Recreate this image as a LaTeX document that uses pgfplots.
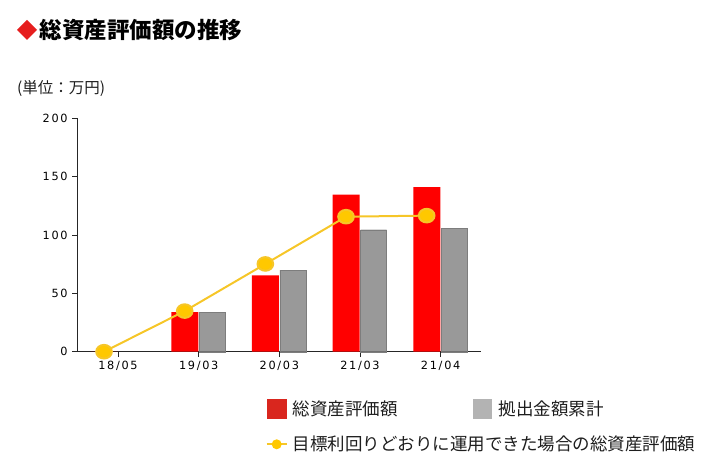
\documentclass[border=0pt]{standalone}
\usepackage{fontspec}
\usepackage{pgfplots}
\pgfplotsset{compat=1.18}
\setmainfont{DejaVu Sans}
\newfontfamily\cjk{Noto Sans CJK JP}
\newfontfamily\tickfont[LetterSpace=15]{DejaVu Sans}

\definecolor{barred}{RGB}{255,0,0}
\definecolor{bargray}{RGB}{153,153,153}
\definecolor{bargrayedge}{RGB}{125,125,125}
\definecolor{legred}{RGB}{217,38,30}
\definecolor{leggray}{RGB}{179,179,179}
\definecolor{goalline}{RGB}{246,198,40}
\definecolor{goalmark}{RGB}{255,200,0}
\definecolor{titlered}{RGB}{230,30,30}
\definecolor{txt}{RGB}{30,30,30}

\begin{document}
\begin{tikzpicture}[x=1pt,y=1pt]
  \begin{axis}[
      at={(77.7pt,104.3pt)}, anchor=south west,
      scale only axis,
      width=403.3pt, height=233.4pt,
      xmin=-0.5, xmax=4.5,
      ymin=0, ymax=200,
      axis lines=left,
      axis line style={-, draw=black!85, line width=0.8pt},
      xtick={0,1,2,3,4},
      xticklabels={18/05,19/03,20/03,21/03,21/04},
      ytick={0,50,100,150,200},
      tick align=outside,
      major tick length=5.5pt,
      tick style={black!85, line width=0.8pt},
      /pgf/number format/assume math mode=true,
      ticklabel style={font=\tickfont\fontsize{11.3}{12}\selectfont, text=black},
      yticklabel style={xshift=-1pt},
      clip=false,
    ]

    % 総資産評価額
    \addplot[ybar, bar width=27pt, bar shift=-13.9pt, fill=barred, draw=none]
      coordinates {(0,0) (1,34) (2,65.5) (3,134.5) (4,141)};

    % 拠出金額累計
    \addplot[ybar, bar width=26pt, bar shift=13.6pt, fill=bargray,
             draw=bargrayedge, line width=0.4pt]
      coordinates {(1,33.5) (2,70) (3,104.5) (4,105.5)};

    % 目標利回りどおりに運用できた場合の総資産評価額
    \addplot[goalline, line width=2pt, xshift=-14pt,
             mark=*, mark size=6.8pt,
             mark options={xscale=1.15, fill=goalmark, draw=none}]
      coordinates {(0,0) (1,34.8) (2,75.2) (3,115.7) (4,116.6)};

  \end{axis}

  % title and unit
  \fill[titlered] (27,436) -- (37,426) -- (27,416) -- (17,426) -- cycle;
  \node[anchor=west, inner sep=0pt, text=black] at (39.5,426)
    {\cjk\bfseries\fontsize{22.5}{24}\selectfont 総資産評価額の推移};
  \node[anchor=west, inner sep=0pt, text=txt] at (17,367)
    {\cjk\fontsize{15.5}{16}\selectfont (単位：万円)};

  % legend
  \fill[legred] (267,57) rectangle (286.7,36.7);
  \node[anchor=west, inner sep=0pt, text=txt] at (292.5,46.8)
    {\cjk\fontsize{17.5}{18}\selectfont 総資産評価額};
  \fill[leggray] (472.7,57) rectangle (492.4,36.7);
  \node[anchor=west, inner sep=0pt, text=txt] at (498.5,46.8)
    {\cjk\fontsize{17.5}{18}\selectfont 拠出金額累計};
  \draw[goalline, line width=2pt] (266.7,11.7) -- (286.7,11.7);
  \fill[goalmark] (276.7,11.7) circle (5);
  \node[anchor=west, inner sep=0pt, text=txt] at (292.5,12.2)
    {\cjk\fontsize{17.5}{18}\selectfont 目標利回りどおりに運用できた場合の総資産評価額};

  \pgfresetboundingbox
  \path[use as bounding box] (0,0) rectangle (705,456);
\end{tikzpicture}
\end{document}
